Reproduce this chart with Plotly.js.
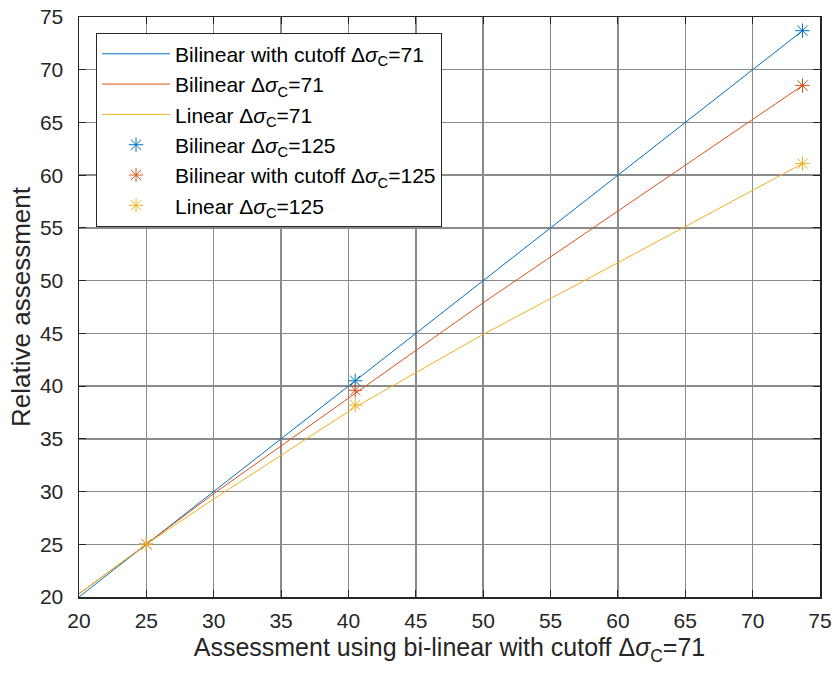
<!DOCTYPE html>
<html><head><meta charset="utf-8">
<script src="https://cdn.plot.ly/plotly-3.0.1.min.js"></script>
<style>body{margin:0;background:#fff}#c{width:835px;height:677px}</style>
</head><body><div id="c"></div>
<script>
// Lines (Δσ_C = 71)
const lineX = [20, 25, 30, 40.5, 50, 60, 73.7];
const bilinCutoff71 = [20, 25, 30, 40.5, 50, 60, 73.7];
const bilin71 = [20.3, 25, 29.8, 39.3, 47.9, 56.6, 68.5];
const linear71 = [20.3, 25, 29.3, 38.0, 44.9, 51.7, 61.1];
// Markers (Δσ_C = 125)
const markX = [25, 40.5, 73.7];
const bilin125 = [25, 40.5, 73.7];
const bilinCutoff125 = [25, 39.6, 68.5];
const linear125 = [25, 38.2, 61.1];
const ticks = [20, 25, 30, 35, 40, 45, 50, 55, 60, 65, 70, 75];

const ds = 'Δ<i>σ</i><sub>C</sub>';
const cB = '#0072BD', cR = '#D95319', cY = '#EDB120';
const traces = [
  {x: lineX, y: bilinCutoff71, mode: 'lines', name: 'Bilinear with cutoff ' + ds + '=71', line: {color: cB, width: 1}, legendgroup: 'a'},
  {x: lineX, y: bilin71, mode: 'lines', name: 'Bilinear ' + ds + '=71', line: {color: cR, width: 1}, legendgroup: 'b'},
  {x: lineX, y: linear71, mode: 'lines', name: 'Linear ' + ds + '=71', line: {color: cY, width: 1}, legendgroup: 'c'},
  {x: markX, y: bilin125, mode: 'markers', name: 'Bilinear ' + ds + '=125', marker: {symbol: 'asterisk-open', size: 12, color: cB, line: {color: cB, width: 1}}, legendgroup: 'd'},
  {x: markX, y: bilinCutoff125, mode: 'markers', name: 'Bilinear with cutoff ' + ds + '=125', marker: {symbol: 'asterisk-open', size: 12, color: cR, line: {color: cR, width: 1}}, legendgroup: 'e'},
  {x: markX, y: linear125, mode: 'markers', name: 'Linear ' + ds + '=125', marker: {symbol: 'asterisk-open', size: 12, color: cY, line: {color: cY, width: 1}}, legendgroup: 'f'}
];
const ax = {
  range: [20, 75], tickvals: ticks, ticks: 'inside', ticklen: 7, tickcolor: '#262626',
  showline: true, linecolor: '#262626', linewidth: 1.5, mirror: 'ticks',
  showgrid: true, gridcolor: '#8a8a8a', gridwidth: 1.5, zeroline: false,
  tickfont: {size: 21, color: '#262626'}
};
const layout = {
  width: 835, height: 677,
  margin: {l: 79, r: 15, t: 17, b: 80},
  paper_bgcolor: '#fff', plot_bgcolor: '#fff',
  font: {family: 'Liberation Sans, Arial, sans-serif', color: '#262626'},
  showlegend: true,
  xaxis: Object.assign({}, ax, {ticklabelstandoff: 4, title: {text: 'Assessment using bi-linear with cutoff ' + ds + '=71', font: {size: 25}, standoff: 8}}),
  yaxis: Object.assign({}, ax, {ticklabelstandoff: 10, title: {text: 'Relative assessment', font: {size: 26}, standoff: 2}}),
  legend: {x: 0.023, y: 0.973, xanchor: 'left', yanchor: 'top', bgcolor: '#fff', bordercolor: '#262626', borderwidth: 1,
    font: {size: 21, color: '#000'}, tracegroupgap: 15, traceorder: 'normal', itemwidth: 68}
};
Plotly.newPlot('c', traces, layout, {displayModeBar: false, staticPlot: true});
</script></body></html>
